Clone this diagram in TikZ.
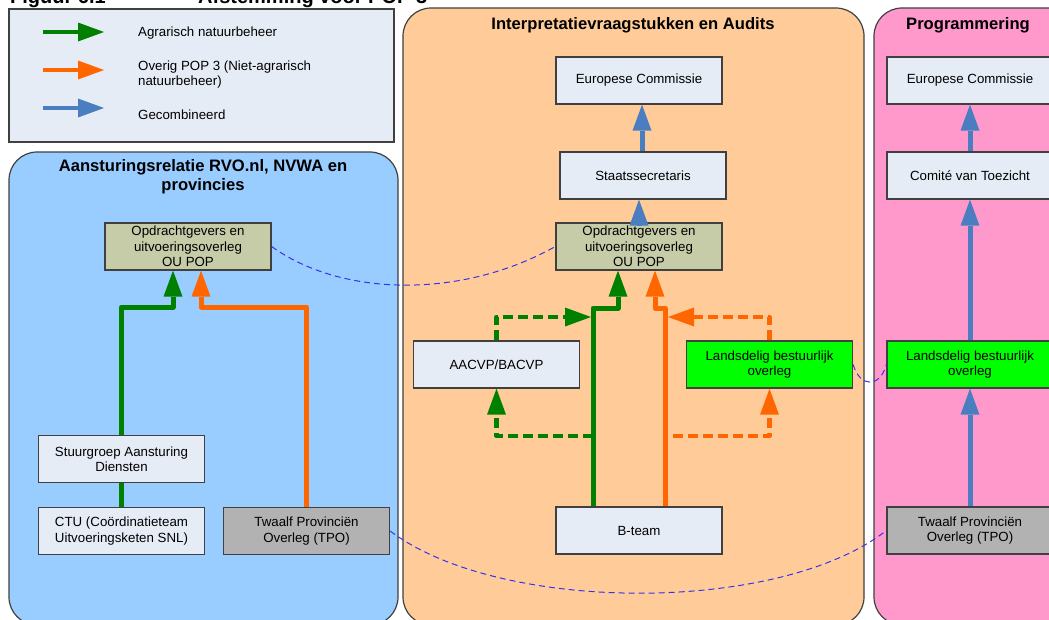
\documentclass[tikz,border=0pt]{standalone}
\usepackage{fontspec}
\setmainfont{Liberation Sans}
\usetikzlibrary{arrows.meta}
\definecolor{panelblue}{HTML}{99CCFF}
\definecolor{panelorange}{HTML}{FFCC99}
\definecolor{panelpink}{HTML}{FF99CC}
\definecolor{boxlight}{HTML}{E6ECF6}
\definecolor{boxolive}{HTML}{C6CCA8}
\definecolor{boxgreen}{HTML}{00FF00}
\definecolor{boxgray}{HTML}{B2B2B2}
\definecolor{argreen}{HTML}{008000}
\definecolor{arorange}{HTML}{FF6600}
\definecolor{arblue}{HTML}{4A7EC1}
\definecolor{edgegray}{HTML}{404040}
\definecolor{linkblue}{HTML}{3333EE}
\begin{document}
\begin{tikzpicture}[x=1pt,y=-1pt,
  panel/.style={draw=edgegray,line width=1.2pt,rounded corners=28pt},
  box/.style={draw=edgegray,line width=1.3pt,minimum width=166pt,minimum height=47pt,inner sep=0pt,align=center,font=\fontsize{13.3}{15.5}\selectfont},
  ptitle/.style={font=\fontsize{16.6}{19}\selectfont\bfseries,align=center,inner sep=0pt},
  legtext/.style={font=\fontsize{13.3}{15.5}\selectfont,align=left,anchor=west,inner sep=0pt},
  tip/.style={-{Triangle[width=19pt,length=26pt,line width=0pt]}},
  flow/.style={line width=5pt,line join=round,tip},
  plainflow/.style={line width=5pt},
  dflow/.style={line width=4.5pt,line join=round,dash pattern=on 10pt off 5pt,tip},
  link/.style={draw=linkblue,line width=1pt,dash pattern=on 6pt off 4pt}]
\useasboundingbox (0,0) rectangle (1049,619);
\fill[white] (0,0) rectangle (1049,619);
% figure title (cut off at the top, as in the reference)
\node[font=\fontsize{20}{24}\selectfont\bfseries,anchor=base west,inner sep=0pt] (figno) at (10,3) {Figuur 6.1};
\node[font=\fontsize{20}{24}\selectfont\bfseries,anchor=base west,inner sep=0pt] (figtitle) at (198,3) {Afstemming voor POP 3};
% legend
\node[draw=edgegray,line width=1.2pt,fill=boxlight,minimum width=385pt,minimum height=133pt,inner sep=0pt] (legend) at (201.5,75.5) {};
\coordinate (lg1a) at (43,32); \coordinate (lg1b) at (104,32);
\coordinate (lg2a) at (43,70); \coordinate (lg2b) at (104,70);
\coordinate (lg3a) at (43,108); \coordinate (lg3b) at (104,108);
\draw[flow,argreen,line width=4.5pt] (lg1a) -- (lg1b);
\draw[flow,arorange,line width=4.5pt] (lg2a) -- (lg2b);
\draw[flow,arblue,line width=4.5pt] (lg3a) -- (lg3b);
\node[legtext] (lt1) at (138,33) {Agrarisch natuurbeheer};
\node[legtext] (lt2) at (138,74.5) {Overig POP 3 (Niet-agrarisch\\natuurbeheer)};
\node[legtext] (lt3) at (138,115) {Gecombineerd};
% panels
\draw[panel,fill=panelblue] (9,152) rectangle (398,625);
\draw[panel,fill=panelorange] (403,8) rectangle (864,625);
\draw[panel,fill=panelpink] (874,8) rectangle (1110,625);
\node[ptitle] (tleft) at (203,176.5) {Aansturingsrelatie RVO.nl, NVWA en\\provincies};
\node[ptitle] (tmid) at (633,25) {Interpretatievraagstukken en Audits};
\node[ptitle] (tright) at (968,25) {Programmering};
% left panel boxes
\node[box,fill=boxolive] (ouL) at (188,246.5) {Opdrachtgevers en\\uitvoeringsoverleg\\OU POP};
\node[box,fill=boxlight] (stuur) at (121.5,459) {Stuurgroep Aansturing\\Diensten};
\node[box,fill=boxlight] (ctu) at (121.5,531) {CTU (Coördinatieteam\\Uitvoeringsketen SNL)};
\node[box,fill=boxgray] (twL) at (306.5,531) {Twaalf Provinciën\\Overleg (TPO)};
% middle panel boxes
\node[box,fill=boxlight] (ecM) at (639,80.5) {Europese Commissie};
\node[box,fill=boxlight] (staats) at (643,175.5) {Staatssecretaris};
\node[box,fill=boxolive] (ouM) at (639,246.5) {Opdrachtgevers en\\uitvoeringsoverleg\\OU POP};
\node[box,fill=boxlight] (aacvp) at (496.5,364.5) {AACVP/BACVP};
\node[box,fill=boxgreen] (landM) at (769.5,364.5) {Landsdelig bestuurlijk\\overleg};
\node[box,fill=boxlight] (bteam) at (639,530.5) {B-team};
% right panel boxes
\node[box,fill=boxlight] (ecR) at (970,80.5) {Europese Commissie};
\node[box,fill=boxlight] (comite) at (970,175.5) {Comité van Toezicht};
\node[box,fill=boxgreen] (landR) at (970,364.5) {Landsdelig bestuurlijk\\overleg};
\node[box,fill=boxgray] (twR) at (970,530.5) {Twaalf Provinciën\\Overleg (TPO)};
% left panel arrows
\coordinate (lgbend) at (121.5,307); \coordinate (lgbend2) at (173,307);
\coordinate (lobend) at (306.5,307); \coordinate (lobend2) at (201,307);
\draw[plainflow,argreen] (ctu.north) -- (stuur.south);
\draw[flow,argreen] (stuur.north) -- (lgbend) -- (lgbend2) -- (lgbend2 |- ouL.south);
\draw[flow,arorange] (twL.north) -- (lobend) -- (lobend2) -- (lobend2 |- ouL.south);
% middle panel arrows
\coordinate (gbend) at (593,308); \coordinate (gbend2) at (618,308);
\coordinate (obend) at (665,308); \coordinate (obend2) at (655,308);
\draw[flow,argreen] (bteam.north -| gbend) -- (gbend) -- (gbend2) -- (gbend2 |- ouM.south);
\draw[flow,arorange] (bteam.north -| obend) -- (obend) -- (obend2) -- (obend2 |- ouM.south);
\coordinate (gsplit) at (593,436); \coordinate (gjoin) at (591,317);
\coordinate (osplit) at (673,436); \coordinate (ojoin) at (668,317);
\draw[dflow,argreen] (gsplit) -- (gsplit -| aacvp.south) -- (aacvp.south);
\draw[dflow,argreen] (aacvp.north) -- (aacvp.north |- gjoin) -- (gjoin);
\draw[dflow,arorange] (osplit) -- (osplit -| landM.south) -- (landM.south);
\draw[dflow,arorange] (landM.north) -- (landM.north |- ojoin) -- (ojoin);
\draw[flow,arblue] (ouM.north) -- (ouM.north |- staats.south);
\draw[flow,arblue] ([xshift=-1pt]staats.north) -- ([xshift=-1pt]staats.north |- ecM.south);
% right panel arrows
\draw[flow,arblue] (comite.north) -- (ecR.south);
\draw[flow,arblue] (landR.north) -- (comite.south);
\draw[flow,arblue] (twR.north) -- (landR.south);
% dashed links
\draw[link] (ouL.east) .. controls (340,296) and (460,300) .. (ouM.west);
\draw[link] (twL.east) .. controls (500,614) and (780,614) .. (twR.west);
\draw[link] (landM.east) .. controls (860,388) and (880,388) .. (landR.west);
\end{tikzpicture}
\end{document}
